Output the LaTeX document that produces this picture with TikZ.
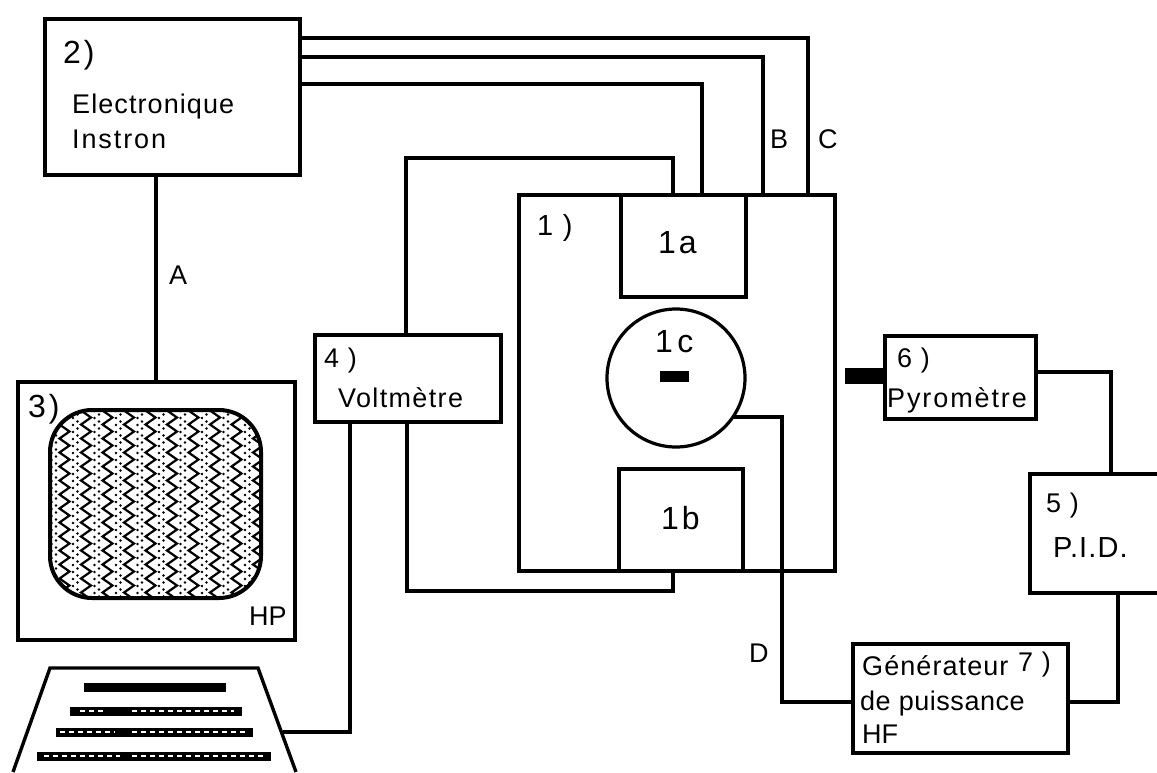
\documentclass[tikz,border=0pt]{standalone}
\usepackage{fontspec}
\setmainfont{Liberation Sans}
\usepackage{tikz}
\usetikzlibrary{calc,decorations.pathmorphing}
\tikzset{
  unit/.style={draw, line width=3.8pt, inner sep=0pt, anchor=north west},
  lbl/.style={inner sep=0pt, anchor=base west, font=\fontsize{27}{30}\selectfont\addfontfeature{LetterSpace=4}},
  num/.style={inner sep=0pt, anchor=base west, font=\fontsize{32}{36}\selectfont\addfontfeature{LetterSpace=9}},
  wire/.style={line width=3.2pt, line join=miter},
  bar/.style={line width=9pt},
}
\begin{document}
\begin{tikzpicture}[x=1pt, y=-1pt]
\useasboundingbox (0,0) rectangle (1157,772);
% main units
\node[unit, minimum width=255pt, minimum height=156pt] (instron) at (43,17) {};
\node[unit, minimum width=277pt, minimum height=258pt] (screen) at (16,380) {};
\node[unit, minimum width=186pt, minimum height=87pt] (volt) at (313,333) {};
\node[unit, minimum width=316pt, minimum height=376pt] (chamber) at (517,193) {};
\node[unit, minimum width=125pt, minimum height=102pt] (upper) at (619,193) {};
\node[unit, minimum width=124pt, minimum height=102pt] (lower) at (617,467) {};
\node[draw, circle, line width=3.2pt, minimum size=138pt, inner sep=0pt] (furnace) at (676,378) {};
\node[unit, minimum width=151pt, minimum height=83pt] (pyro) at (883,334) {};
\node[unit, minimum width=140pt, minimum height=119pt] (pid) at (1028,472) {};
\node[unit, minimum width=215pt, minimum height=109pt] (gene) at (851,642) {};
% sample and pyrometer head
\fill (660,371) rectangle (689,382);
\fill (845,368) rectangle (885,384);
% monitor
\begin{scope}
\clip[rounded corners=42pt] (50,410) rectangle (261,598);
\foreach \x in {43,64.5,...,280}
  \draw[line width=2.2pt, decorate, decoration={zigzag, segment length=14pt, amplitude=5pt}] (\x,400) -- (\x,610);
\foreach \x in {43,64.5,...,280}
  \foreach \y in {404,411,...,610} {
    \fill (\x+8.5,\y) circle (1.3pt);
    \fill (\x+13,\y+3.5) circle (1.3pt);
  }
\end{scope}
\draw[line width=4pt, rounded corners=42pt] (50,410) rectangle (261,598);
% keyboard
\draw[line width=3.4pt, line join=miter] (13,772) -- (50,668) -- (258,668) -- (296,772);
\draw[bar] (84,687) -- (226,687);
\draw[bar] (70,711) -- (242,711);
\draw[bar] (56,732) -- (253,732);
\draw[bar] (37,756) -- (271,756);
\foreach \a/\b/\c in {80/105/711, 132/234/711, 60/115/732, 132/246/732, 44/120/756, 132/264/756}
  \draw[white, line width=1.2pt, dash pattern=on 5pt off 4pt] (\a,\c) -- (\b,\c);
% connectors
\coordinate (kbd) at (283,732);
\draw[wire] (156,0 |- instron.south) -- (156,0 |- screen.north);
\draw[wire] (instron.east |- 0,38) -| (808,0 |- chamber.north);
\draw[wire] (instron.east |- 0,57) -| (763,0 |- chamber.north);
\draw[wire] (instron.east |- 0,84) -| (702,0 |- chamber.north);
\draw[wire] (406,0 |- volt.north) |- (406,158) -| (673,0 |- chamber.north);
\draw[wire] (407,0 |- volt.south) |- (407,591) -| (673,0 |- lower.south);
\draw[wire] (350,0 |- volt.south) |- (kbd);
\draw[wire] (733,417) -| (782,702) -- (gene.west |- 0,702);
\draw[wire] (pyro.east |- 0,372) -| (1111,0 |- pid.north);
\draw[wire] (gene.east |- 0,702) -| (1118,0 |- pid.south);
% labels
\node[num] (l2) at (63,63) {2)};
\node[lbl] (l2a) at (72,113) {Electronique};
\node[lbl, font=\fontsize{27}{30}\selectfont\addfontfeature{LetterSpace=7}] (l2b) at (72,148) {Instron};
\node[lbl] (la) at (169,284) {A};
\node[num] (l3) at (28,417) {3)};
\node[lbl, font=\fontsize{27}{30}\selectfont] (lhp) at (249,625) {HP};
\node[lbl] (l4) at (324,367) {4 )};
\node[lbl, font=\fontsize{27}{30}\selectfont\addfontfeature{LetterSpace=5}] (l4a) at (338,407) {Voltmètre};
\node[num, font=\fontsize{29}{32}\selectfont\addfontfeature{LetterSpace=5}] (l1) at (537,235) {1 )};
\node[num] (l1a) at (658,253) {1a};
\node[num] (l1b) at (661,529) {1b};
\node[num, font=\fontsize{32}{36}\selectfont\addfontfeature{LetterSpace=14}] (l1c) at (655,352) {1c};
\node[lbl] (lb) at (770,148) {B};
\node[lbl] (lc) at (818,148) {C};
\node[lbl] (ld) at (749,662) {D};
\node[lbl] (l6) at (897,367) {6 )};
\node[lbl, font=\fontsize{27}{30}\selectfont\addfontfeature{LetterSpace=7}] (l6a) at (887,407) {Pyromètre};
\node[lbl] (l5) at (1046,512) {5 )};
\node[num, font=\fontsize{29}{32}\selectfont\addfontfeature{LetterSpace=4}] (l5a) at (1053,557) {P.I.D.};
\node[lbl] (l7a) at (862,675) {Générateur};
\node[lbl] (l7b) at (1018,671) {7 )};
\node[lbl, font=\fontsize{27}{30}\selectfont\addfontfeature{LetterSpace=2}] (l7c) at (860,710) {de puissance};
\node[lbl, font=\fontsize{27}{30}\selectfont] (l7d) at (862,743) {HF};
\end{tikzpicture}
\end{document}
